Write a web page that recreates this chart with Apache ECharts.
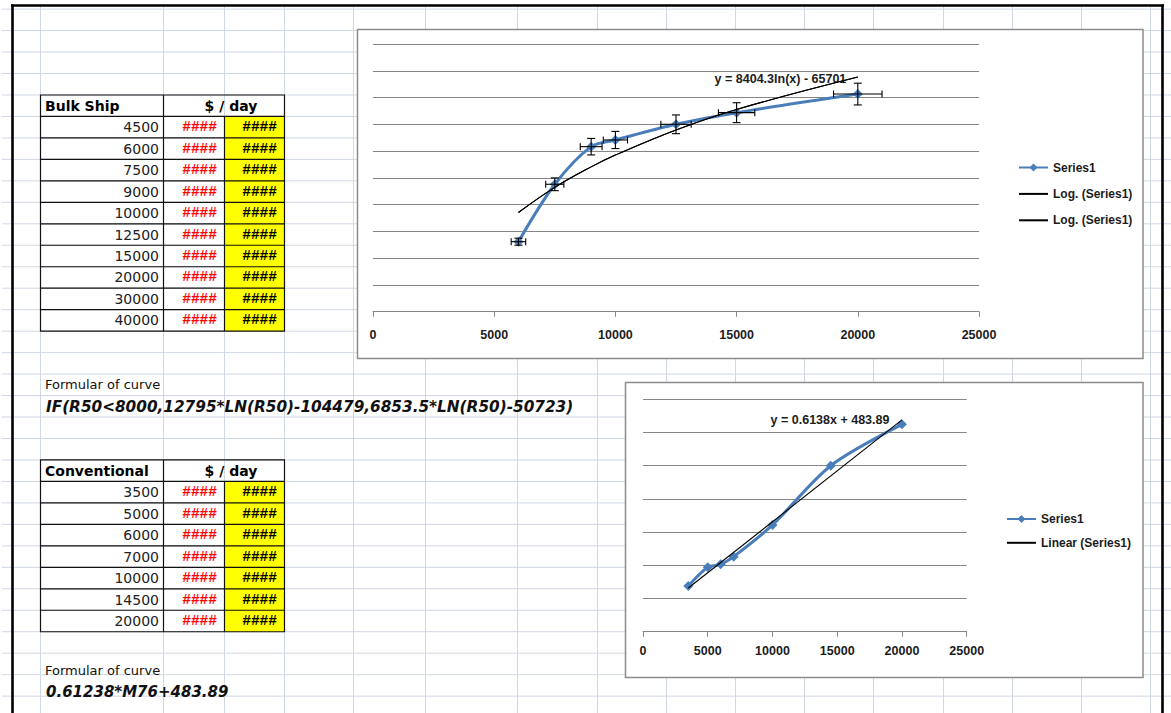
<!DOCTYPE html>
<html>
<head>
<meta charset="utf-8">
<script src="https://cdn.jsdelivr.net/npm/echarts@6/dist/echarts.min.js"></script>
<style>
  html, body { margin: 0; padding: 0; background: #ffffff; }
  #sheet { width: 1171px; height: 713px; }
</style>
</head>
<body>
<div id="sheet"></div>
<script>
// ---- worksheet data ----
const BULK_TITLE = 'Bulk Ship';
const CONV_TITLE = 'Conventional';
const RATE_TITLE = '$ / day';
const OVERFLOW = '####';
const BULK_SIZES = [4500, 6000, 7500, 9000, 10000, 12500, 15000, 20000, 30000, 40000];
const CONV_SIZES = [3500, 5000, 6000, 7000, 10000, 14500, 20000];
const NOTE_TEXT = 'Formular of curve';
const BULK_FORMULA = 'IF(R50<8000,12795*LN(R50)-104479,6853.5*LN(R50)-50723)';
const CONV_FORMULA = '0.61238*M76+483.89';

// ---- plotted series ----
const BULK_X = [6000, 7500, 9000, 10000, 12500, 15000, 20000];
const BULK_RATE = [5230, 9520, 12330, 12830, 14000, 14870, 16260];
const CONV_X = [3500, 5000, 6000, 7000, 10000, 14500, 20000];
const CONV_RATE = [2750, 3880, 4060, 4520, 6430, 10000, 12490];

// trendline coefficients as printed on the charts
const LOG_FIT = [8404.3, -65701];   // y = a ln(x) + b
const LIN_FIT = [0.6138, 483.89];   // y = a x + b
const ERROR_PERCENT = 5;            // error bars, both directions

// axis ticks
const X_TICKS = [0, 5000, 10000, 15000, 20000, 25000];
const BULK_Y_TICKS = [0, 2000, 4000, 6000, 8000, 10000, 12000, 14000, 16000, 18000, 20000];
const CONV_Y_TICKS = [0, 2000, 4000, 6000, 8000, 10000, 12000, 14000];

// ---- derived series ----
const bulkPoints = BULK_X.map((x, i) => [x, BULK_RATE[i]]);
const convPoints = CONV_X.map((x, i) => [x, CONV_RATE[i]]);
const logTrend = BULK_X.map(x => [x, LOG_FIT[0] * Math.log(x) + LOG_FIT[1]]);
const linEnds = [CONV_X[0], CONV_X[CONV_X.length - 1]];
const linTrend = linEnds.map(x => [x, LIN_FIT[0] * x + LIN_FIT[1]]);
const LOG_LABEL = 'y = ' + LOG_FIT[0] + 'ln(x) - ' + (-LOG_FIT[1]);
const LIN_LABEL = 'y = ' + LIN_FIT[0] + 'x + ' + LIN_FIT[1];

// ---- styling ----
const GRID_BLUE = '#d0d7e5';
const AXIS_GRAY = '#868686';
const SERIES_BLUE = '#4a7ebb';
const INK = '#1c1c1c';
const CHART_TEXT = { fontFamily: '"Liberation Sans", Arial, sans-serif', fontSize: 12.5, fontWeight: 'bold', color: INK };
const LEGEND_TEXT = { fontFamily: '"Liberation Sans", Arial, sans-serif', fontSize: 12, fontWeight: 'bold', color: INK };

// worksheet geometry
const COLS = [40, 163, 224, 284, 353, 425, 517, 597, 666, 735, 804, 873, 943, 1012, 1081, 1150];
const ROW0 = 9.1, ROW_H = 21.47;
const rowY = k => ROW0 + k * ROW_H;

function seg(x1, y1, x2, y2, stroke, lineWidth, z) {
  return { type: 'line', silent: true, z: z, shape: { x1, y1, x2, y2 }, style: { stroke, lineWidth } };
}
function box(x, y, width, height, fill, stroke, lineWidth, z) {
  return { type: 'rect', silent: true, z: z, shape: { x, y, width, height }, style: { fill, stroke, lineWidth } };
}
function label(text, x, y, font, fill, align, extra) {
  return Object.assign({
    type: 'text', silent: true, z: 4, x: x, y: y,
    style: { text, x: 0, y: 0, font, fill, align, verticalAlign: 'middle', textAlign: align, textVerticalAlign: 'middle' }
  }, extra || {});
}

const sheet = [];
// cell gridlines
COLS.forEach(x => sheet.push(seg(x + 0.5, 4, x + 0.5, 713, GRID_BLUE, 1, 1)));
for (let y = ROW0; y < 713; y += ROW_H) sheet.push(seg(2, y, 1171, y, GRID_BLUE, 1, 1));
// thick print-area frame
sheet.push(seg(11, 5.5, 1164, 5.5, '#000', 2.6, 3));
sheet.push(seg(12.5, 4.5, 12.5, 713, '#000', 2.6, 3));
sheet.push(seg(1162.5, 4.5, 1162.5, 713, '#000', 2.6, 3));

const NUM_FONT = '14px "DejaVu Sans", sans-serif';
const HEAD_FONT = 'bold 14px "DejaVu Sans", sans-serif';
const HASH_FONT = 'bold 14.5px "Liberation Mono", monospace';
const NOTE_FONT = '13px "DejaVu Sans", sans-serif';
const FORMULA_FONT = 'italic bold 15px "DejaVu Sans", sans-serif';

function table(k0, title, sizes) {
  const top = rowY(k0), body = rowY(k0 + 1), bottom = rowY(k0 + sizes.length + 1);
  const L = 40.5, C1 = 163.5, C2 = 224.5, R = 284.5;
  sheet.push(box(C2, body, R - C2, bottom - body, '#ffff00', null, 0, 3));
  sheet.push(box(L, top, R - L, bottom - top, null, '#111', 1.2, 3));
  sheet.push(seg(C1, top, C1, bottom, '#111', 1.2, 3));
  sheet.push(seg(C2, body, C2, bottom, '#111', 1.2, 3));
  for (let i = 1; i <= sizes.length; i++) sheet.push(seg(L, rowY(k0 + i), R, rowY(k0 + i), '#111', 1.2, 3));
  sheet.push(label(title, 45, top + ROW_H / 2, HEAD_FONT, '#000', 'left'));
  sheet.push(label(RATE_TITLE, 231, top + ROW_H / 2, HEAD_FONT, '#000', 'center'));
  sizes.forEach((s, i) => {
    const cy = rowY(k0 + 1 + i) + ROW_H / 2;
    sheet.push(label(String(s), 159, cy, NUM_FONT, '#222', 'right'));
    sheet.push(label(OVERFLOW, 217, cy, HASH_FONT, '#ff0000', 'right'));
    sheet.push(label(OVERFLOW, 277, cy, HASH_FONT, '#000', 'right'));
  });
}
table(4, BULK_TITLE, BULK_SIZES);
table(21, CONV_TITLE, CONV_SIZES);

sheet.push(label(NOTE_TEXT, 45, rowY(17) + ROW_H / 2, NOTE_FONT, '#111', 'left'));
sheet.push(label(BULK_FORMULA, 46, rowY(18) + ROW_H / 2 + 1, FORMULA_FONT, '#111', 'left', { scaleX: 1.02 }));
sheet.push(label(NOTE_TEXT, 45, 670.5, NOTE_FONT, '#111', 'left'));
sheet.push(label(CONV_FORMULA, 46, 691.5, FORMULA_FONT, '#111', 'left'));

// chart frames
sheet.push(box(357.5, 29.5, 785.5, 329, '#fff', '#8c8c8c', 1.5, 5));
sheet.push(box(625.5, 382.5, 517.5, 295, '#fff', '#8c8c8c', 1.5, 5));

// ---- error bars drawn as I-beams in both directions ----
function errorBars(params, api) {
  const x = api.value(0), y = api.value(1);
  const ex = x * ERROR_PERCENT / 100, ey = y * ERROR_PERCENT / 100;
  const l = api.coord([x - ex, y]), r = api.coord([x + ex, y]);
  const t = api.coord([x, y + ey]), b = api.coord([x, y - ey]);
  const capV = 3.5, capH = 4;
  const s = (x1, y1, x2, y2) => ({ type: 'line', shape: { x1, y1, x2, y2 }, style: { stroke: '#000', lineWidth: 1.1 } });
  return {
    type: 'group', children: [
      s(l[0], l[1], r[0], r[1]),
      s(l[0], l[1] - capV, l[0], l[1] + capV),
      s(r[0], r[1] - capV, r[0], r[1] + capV),
      s(t[0], t[1], b[0], b[1]),
      s(t[0] - capH, t[1], t[0] + capH, t[1]),
      s(b[0] - capH, b[1], b[0] + capH, b[1])
    ]
  };
}

function xAxis(gridIndex, margin) {
  return {
    gridIndex, type: 'value', z: 10,
    min: X_TICKS[0], max: X_TICKS[X_TICKS.length - 1], interval: X_TICKS[1] - X_TICKS[0],
    axisLine: { show: true, lineStyle: { color: AXIS_GRAY, width: 1 } },
    axisTick: { show: true, length: 5, lineStyle: { color: AXIS_GRAY } },
    axisLabel: Object.assign({ margin, formatter: v => String(v) }, CHART_TEXT),
    splitLine: { show: false }
  };
}
function yAxis(gridIndex, ticks) {
  return {
    gridIndex, type: 'value', z: 10,
    min: ticks[0], max: ticks[ticks.length - 1], interval: ticks[1] - ticks[0],
    axisLine: { show: false }, axisTick: { show: false }, axisLabel: { show: false },
    splitLine: { show: true, lineStyle: { color: AXIS_GRAY, width: 1 } }
  };
}

const legendName = n => n.replace(/ #\d$/, '');
// trendline entries show a plain line, no marker
const lineOnly = name => ({ name, itemStyle: { opacity: 0 } });

const option = {
  backgroundColor: '#ffffff',
  animation: false,
  graphic: { elements: sheet },
  grid: [
    { left: 373, top: 44, width: 606, height: 267.7, outerBoundsMode: 'none', z: 10 },
    { left: 643, top: 399.3, width: 323.7, height: 232.4, outerBoundsMode: 'none', z: 10 }
  ],
  xAxis: [xAxis(0, 17), xAxis(1, 13)],
  yAxis: [yAxis(0, BULK_Y_TICKS), yAxis(1, CONV_Y_TICKS)],
  legend: [
    {
      data: ['Series1', lineOnly('Log. (Series1)'), lineOnly('Log. (Series1) #2')], formatter: legendName,
      orient: 'vertical', left: 1018, top: 161.5, padding: 0,
      itemWidth: 29, itemHeight: 10, itemGap: 14.4, selectedMode: false, z: 12,
      textStyle: LEGEND_TEXT
    },
    {
      data: ['Series1', lineOnly('Linear (Series1)')], formatter: legendName,
      orient: 'vertical', left: 1006, top: 513, padding: 0,
      itemWidth: 29, itemHeight: 10, itemGap: 11.8, selectedMode: false, z: 12,
      textStyle: LEGEND_TEXT
    }
  ],
  series: [
    {
      name: 'Series1', type: 'line', xAxisIndex: 0, yAxisIndex: 0, z: 12,
      data: bulkPoints, smooth: 0.3, symbol: 'diamond', symbolSize: 10,
      itemStyle: { color: SERIES_BLUE }, lineStyle: { color: SERIES_BLUE, width: 3 }
    },
    {
      name: 'Error bars', type: 'custom', xAxisIndex: 0, yAxisIndex: 0, z: 13,
      data: bulkPoints, renderItem: errorBars, silent: true
    },
    {
      name: 'Log. (Series1)', type: 'line', xAxisIndex: 0, yAxisIndex: 0, z: 14,
      data: logTrend, smooth: 0.4, symbol: 'none', silent: true,
      itemStyle: { color: '#000' }, lineStyle: { color: '#000', width: 1.1 },
      markPoint: {
        symbol: 'circle', symbolSize: 1, silent: true, itemStyle: { color: 'rgba(0,0,0,0)' },
        data: [{
          coord: logTrend[logTrend.length - 1],
          label: Object.assign({ show: true, formatter: LOG_LABEL, position: 'left', distance: 11, offset: [0, 2] }, CHART_TEXT)
        }]
      }
    },
    {
      name: 'Log. (Series1) #2', type: 'line', xAxisIndex: 0, yAxisIndex: 0, z: 14,
      data: logTrend, smooth: 0.4, symbol: 'none', silent: true,
      itemStyle: { color: '#000' }, lineStyle: { color: '#000', width: 1.1 }
    },
    {
      name: 'Series1', type: 'line', xAxisIndex: 1, yAxisIndex: 1, z: 12,
      data: convPoints, smooth: 0.3, symbol: 'diamond', symbolSize: 10,
      itemStyle: { color: SERIES_BLUE }, lineStyle: { color: SERIES_BLUE, width: 3 }
    },
    {
      name: 'Linear (Series1)', type: 'line', xAxisIndex: 1, yAxisIndex: 1, z: 14,
      data: linTrend, symbol: 'none', silent: true,
      itemStyle: { color: '#000' }, lineStyle: { color: '#000', width: 1.1 },
      markPoint: {
        symbol: 'circle', symbolSize: 1, silent: true, itemStyle: { color: 'rgba(0,0,0,0)' },
        data: [{
          coord: linTrend[1],
          label: Object.assign({ show: true, formatter: LIN_LABEL, position: 'left', distance: 12, offset: [0, 0] }, CHART_TEXT)
        }]
      }
    }
  ]
};

const chart = echarts.init(document.getElementById('sheet'), null, { renderer: 'svg' });
chart.setOption(option);
</script>
</body>
</html>
